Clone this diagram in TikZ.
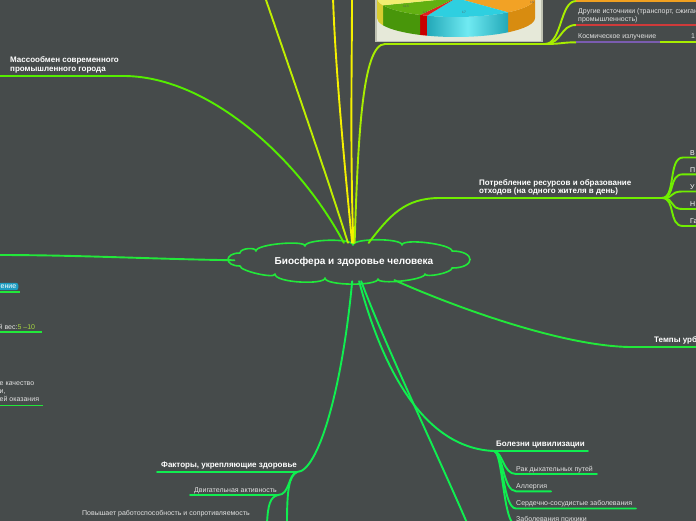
\documentclass[tikz,border=0pt]{standalone}
\usepackage{fontspec}
\setmainfont{Liberation Sans}
\usetikzlibrary{shapes.geometric}
\definecolor{bg}{HTML}{464B4B}
\definecolor{cloudg}{HTML}{22E83A}
\definecolor{sgreen}{HTML}{10EE50}
\definecolor{lgreen}{HTML}{55EE00}
\definecolor{plime}{HTML}{70EE00}
\definecolor{tlime}{HTML}{A8EE00}
\definecolor{ylime}{HTML}{BFEE00}
\definecolor{yel}{HTML}{F5F000}
\definecolor{txtg}{HTML}{E2E2E2}
\definecolor{numg}{HTML}{A8D840}
\definecolor{tealb}{HTML}{1E9CC0}
\definecolor{purp}{HTML}{7A5CB0}
\definecolor{redl}{HTML}{D03A3A}
\definecolor{orl}{HTML}{F0A020}
\definecolor{boxf}{HTML}{E6E9D9}
\definecolor{boxd}{HTML}{BFC2B2}
\definecolor{ortop}{HTML}{F2A225}
\definecolor{orside}{HTML}{D88C10}
\definecolor{cytop}{HTML}{2ECFE0}
\definecolor{cyside}{HTML}{22A8B8}
\definecolor{cylight}{HTML}{70EAF2}
\definecolor{rdtop}{HTML}{E02020}
\definecolor{rdside}{HTML}{C80000}
\definecolor{grtop}{HTML}{62B012}
\definecolor{grside}{HTML}{48960A}
\definecolor{yltop}{HTML}{F2EE70}
\definecolor{ylside}{HTML}{D8CC30}
\begin{document}
\begin{tikzpicture}[x=1pt,y=-1pt,
  conn/.style={line width=1.9pt, line cap=round},
  uline/.style={line width=1.9pt},
  title/.style={anchor=base west, inner sep=0pt, text=white, font=\bfseries\fontsize{8}{9.5}\selectfont},
  item/.style={anchor=base west, inner sep=0pt, text=txtg, font=\fontsize{7}{8.5}\selectfont},
  pielbl/.style={inner sep=0pt, text=black!65, font=\fontsize{3.2}{3.5}\selectfont}
]
\useasboundingbox (0,0) rectangle (696,520);
\fill[bg] (-5,-5) rectangle (701,525);

% central cloud outline
\draw[cloudg, line width=1.6pt, fill=bg, line join=round]
  (452,251) .. controls (452,244) and (402,238) .. (402,245)
  .. controls (402,238) and (353,238) .. (353,245)
  .. controls (353,238) and (305,239) .. (305,246)
  .. controls (305,240) and (256,244) .. (256,251)
  .. controls (256,247) and (240,248) .. (240,253)
  .. controls (224,253) and (224,266) .. (240,266)
  .. controls (240,271) and (275,279) .. (275,274)
  .. controls (275,283) and (325,285) .. (325,278)
  .. controls (325,286) and (378,286) .. (378,279)
  .. controls (378,285) and (425,280) .. (425,274)
  .. controls (425,278) and (452,273) .. (452,268)
  .. controls (476,268) and (476,251) .. (452,251) -- cycle;
\node[ellipse, minimum width=240pt, minimum height=38pt, inner sep=0pt, text=white,
      font=\bfseries\fontsize{10}{12}\selectfont] (c) at (354,262) {Биосфера и здоровье человека};

% ---- top lines
\coordinate (t1) at (265,-3);
\coordinate (t2) at (333,-3);
\coordinate (t3) at (352,-3);
\draw[conn, ylime] (c) .. controls (325,170) and (290,70) .. (t1);
\draw[conn, yel] (c) .. controls (343,150) and (335,60) .. (t2);
\draw[conn, yel] (c) .. controls (350,150) and (352,60) .. (t3);

% ---- chart box
\fill[boxd] (375,-3) rectangle (543,42);
\fill[boxf] (377,-3) rectangle (541,40.5);
\begin{scope}
\clip (377,-3) rectangle (541,40.5);
\foreach \a/\b/\col in {0/48.8/orside, 111.5/117/rdside, 117/157.5/grside, 157.5/180/ylside}
  \fill[\col] (456,-2) ++(\a:79 and 19) arc[start angle=\a, end angle=\b, x radius=79, y radius=19]
     -- ++(0,20) arc[start angle=\b, end angle=\a, x radius=79, y radius=19] -- cycle;
\shade[left color=cyside, right color=cyside, middle color=cylight]
  (456,-2) ++(48.8:79 and 19) arc[start angle=48.8, end angle=111.5, x radius=79, y radius=19]
     -- ++(0,20) arc[start angle=111.5, end angle=48.8, x radius=79, y radius=19] -- cycle;
\foreach \a/\b/\col in {-90/48.8/ortop, 48.8/111.5/cytop, 111.5/117/rdtop, 117/157.5/grtop, 157.5/270/yltop}
  \fill[\col] (456,-2) -- ++(\a:79 and 19) arc[start angle=\a, end angle=\b, x radius=79, y radius=19] -- cycle;
\end{scope}
\node[pielbl] (pl1) at (406,6) {11.5};
\node[pielbl] (pl2) at (425,12.5) {1.4};
\node[pielbl] (pl3) at (464,12.5) {17};
\node[pielbl] (pl4) at (532,2) {18};

% ---- top right branch
\coordinate (h0) at (385,44);
\coordinate (h1) at (545,44);
\draw[conn, tlime] (c) .. controls (358,140) and (362,44) .. (h0) -- (h1);
\coordinate (o0) at (576,1);  \coordinate (o1) at (698,1);
\coordinate (r0) at (576,25); \coordinate (r1) at (698,25);
\coordinate (k0) at (576,42.3); \coordinate (k1) at (660,42.3); \coordinate (k2) at (698,42.3);
\draw[conn,tlime] (h1) .. controls (562,44) and (560,1) .. (o0);
\draw[conn,tlime] (h1) .. controls (562,44) and (560,25) .. (r0);
\draw[conn,tlime] (h1) .. controls (562,44) and (562,42.3) .. (k0);
\draw[uline,orl] (o0) -- (o1);
\draw[uline,redl] (r0) -- (r1);
\draw[uline,purp] (k0) -- (k1);
\draw[uline,tlime] (k1) -- (k2);
\node[item] (dr1) at (578,13.8) {Другие источники (транспорт, сжигание};
\node[item] (dr2) at (578,21) {промышленность)};
\node[item] (ki) at (578,38.2) {Космическое излучение};
\node[item] (k1t) at (691,38.2) {1};

% ---- left top: Массообмен
\node[title] (m1t) at (10,62) {Массообмен современного};
\node[title] (m2t) at (10,71.5) {промышленного города};
\coordinate (m0) at (-3,76); \coordinate (m1) at (125,76);
\draw[conn,lgreen] (c) .. controls (300,160) and (210,77) .. (m1) -- (m0);

% ---- left line
\coordinate (l0) at (-3,255);
\draw[conn,cloudg] (c) .. controls (150,259) and (80,255) .. (l0);

% ---- left items
\node[fill=tealb, rounded corners=2pt, text=white, font=\fontsize{7}{8}\selectfont,
      inner xsep=2pt, inner ysep=1.6pt, anchor=east] (e1) at (18.5,286.5) {ение};
\coordinate (e0) at (-3,292); \coordinate (e2) at (20,292);
\draw[uline,cloudg] (e0) -- (e2);
\node[item] (w1) at (-1.5,329) {й вес:\textcolor{numg}{5 –10}};
\coordinate (w0) at (-3,332.3); \coordinate (w2) at (42,332.3);
\draw[uline,cloudg] (w0) -- (w2);
\node[item] (q1) at (-0.5,385.5) {е качество};
\node[item] (q2) at (-0.5,393.5) {и,};
\node[item] (q3) at (-0.5,401.5) {ей оказания};
\coordinate (q0) at (-3,405.5); \coordinate (q4) at (43,405.5);
\draw[uline,cloudg] (q0) -- (q4);

% ---- right: Потребление
\node[title] (p1t) at (479,185) {Потребление ресурсов и образование};
\node[title] (p2t) at (479,193.5) {отходов (на одного жителя в день)};
\coordinate (p0) at (440,198); \coordinate (p1) at (662,198);
\draw[conn,plime] (c) .. controls (390,215) and (405,198) .. (p0) -- (p1);
\foreach \y/\t/\n in {157.5/В/a, 174.3/П/b, 191.5/У/c, 209/Н/d, 226/Га/e}{
  \coordinate (pe\n) at (683,\y);
  \coordinate (pf\n) at (698,\y);
  \draw[conn,plime] (p1) .. controls (676,198) and (668,\y) .. (pe\n) -- (pf\n);
  \node[item, text=white] (pt\n) at (690,\y-2.3) {\t};
}

% ---- right: Темпы урбанизации
\node[title] (tu) at (654,342) {Темпы урбанизации};
\coordinate (u0) at (630,347); \coordinate (u1) at (698,347);
\draw[conn,cloudg] (c) .. controls (450,305) and (560,346) .. (u0) -- (u1);

% ---- bottom right: Болезни цивилизации
\node[title] (bz) at (496,446) {Болезни цивилизации};
\coordinate (b0) at (494,451); \coordinate (b1) at (588,451);
\draw[conn,sgreen] (c) .. controls (380,360) and (420,448) .. (b0) -- (b1);
\foreach \y/\x/\n in {474/597/a, 491.3/551/b, 508.5/636/c, 525/600/d}{
  \coordinate (bs\n) at (516,\y);
  \coordinate (be\n) at (\x,\y);
  \draw[conn,sgreen] (b0) .. controls (503,452) and (503,\y) .. (bs\n) -- (be\n);
}
\node[item] (ba) at (516,471) {Рак дыхательных путей};
\node[item] (bb) at (516,488) {Аллергия};
\node[item] (bc) at (516,505) {Сердечно-сосудистые заболевания};
\node[item] (bd) at (516,521.5) {Заболевания психики};

% long line down
\coordinate (z1) at (467,523);
\draw[conn,sgreen] (c) .. controls (385,345) and (440,460) .. (z1);

% ---- bottom left: Факторы
\node[title] (fk) at (161,467) {Факторы, укрепляющие здоровье};
\coordinate (f1) at (297,472); \coordinate (f0) at (157,472);
\draw[conn,sgreen] (c) .. controls (342,390) and (318,472) .. (f1) -- (f0);
\node[item] (dv) at (194,492.5) {Двигательная активность};
\coordinate (d1) at (278,495); \coordinate (d0) at (190,495);
\draw[conn,sgreen] (f1) .. controls (288,474) and (290,495) .. (d1) -- (d0);
\coordinate (fz) at (287,523);
\draw[conn,sgreen] (f1) .. controls (289,476) and (287,490) .. (fz);
\coordinate (dz) at (267,523);
\draw[conn,sgreen] (d1) .. controls (270,497) and (268,505) .. (dz);
\node[item] (pv) at (82,515) {Повышает работоспособность и сопротивляемость};

\end{tikzpicture}
\end{document}
